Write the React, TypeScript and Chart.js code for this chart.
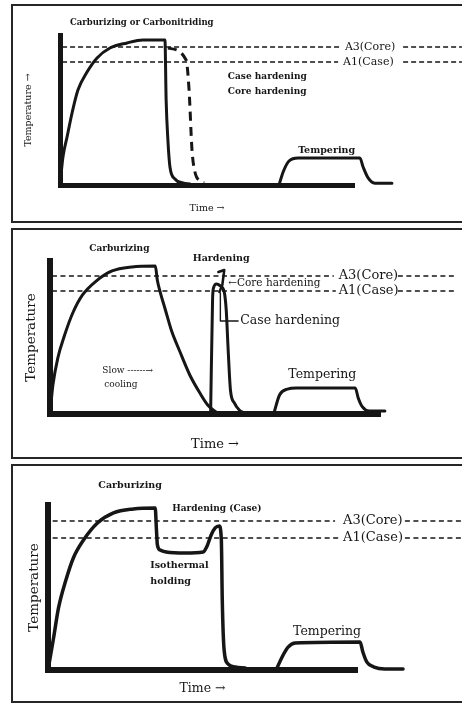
import React, { useEffect, useRef } from 'react';
import { Chart, registerables } from 'chart.js';

Chart.register(...registerables);

// ---------- Panel 1: carburizing / carbonitriding + direct quench ----------
const p1HeatTime = [0, 1.0, 2.4, 4.1, 6.1, 9.2, 12.6, 17.0, 22.8, 28.2, 35.7, 36.1, 36.7, 37.4, 39.1, 41.8, 44.2];
const p1HeatTemp = [0, 18.7, 32, 48, 63.3, 75.3, 84.7, 91.3, 94.7, 96.7, 96.7, 56.7, 30, 12, 4, 1.3, 0.7];
const p1CoreTime = [36.7, 42.9, 43.9, 44.9, 45.9, 47.6, 49];
const p1CoreTemp = [91.3, 83.3, 63.3, 23.3, 8.7, 2.7, 1.3];
const p1TemperTime = [74.5, 75.9, 77.9, 81, 102, 103.1, 104.8, 107.1, 112.9];
const p1TemperTemp = [0, 8.7, 16, 18, 18, 12, 4.7, 1.2, 1.2];
const p1A3 = 92;
const p1A1 = 82;
const p1A3Spans = [[0.7, 95.2], [116.7, 136.7]];
const p1A1Spans = [[0.7, 94.6], [116.7, 136.7]];

// ---------- Panel 2: carburizing, slow cooling, re-hardening ----------
const p2HeatTime = [0, 0.9, 2.4, 4.5, 7, 10, 14.2, 19.1, 25.2, 32.4, 33, 33.9, 35.5, 37.3, 40, 43, 46.1, 48.5, 50.6, 51.8];
const p2HeatTemp = [0, 19, 36.6, 51.6, 66, 77.8, 86.9, 93.5, 96.1, 96.7, 87.6, 79.7, 68, 54.9, 40.5, 25.5, 13.7, 5.9, 2, 0];
const p2SpikeTime = [49.4, 50, 50.3, 51.2, 52.4, 53.6, 54.2, 54.8, 55.5, 56.7, 58.2, 59.7];
const p2SpikeTemp = [0, 74.5, 82.4, 85, 83.7, 79.7, 68, 41.8, 15.7, 7.2, 2.6, 0.7];
const p2PeakTime = [51.8, 53.6, 53.0, 52.1];
const p2PeakTemp = [92.8, 94.1, 84.3, 79.7];
const p2LeaderTime = [52.4, 52.4, 58.0];
const p2LeaderTemp = [79.1, 60.8, 60.8];
const p2TemperTime = [68.8, 70.6, 73, 75.8, 93.9, 94.8, 96.1, 98.2, 103];
const p2TemperTemp = [0, 12.4, 16.3, 17, 17, 10.5, 4.6, 2, 2];
const p2A3 = 90.2;
const p2A1 = 80.4;
const p2A3Spans = [[0.6, 87.3], [107, 124.8]];
const p2A1Spans = [[0.6, 87.9], [107, 124.8]];

// ---------- Panel 3: carburizing, isothermal holding, hardening ----------
const p3HeatTime = [0, 1.8, 3.4, 5.7, 8.2, 11.5, 16, 21.2, 27.6, 34.7, 35.1, 35.4, 36.3, 38.3, 44.4, 50.2, 51.5, 52.8, 54.1, 55.4, 56.1, 56.4, 57, 58.3, 60.6, 63.8];
const p3HeatTemp = [0, 19.4, 37.6, 53.9, 67.9, 78.8, 89.1, 95.2, 97.6, 98.2, 84.8, 75.8, 72.7, 71.5, 70.9, 71.5, 75.2, 81.8, 86.1, 87.3, 78.8, 42.4, 12.1, 3.6, 1.8, 1.2];
const p3TemperTime = [73.8, 76.1, 77.7, 80, 101, 101.9, 103.2, 105.5, 109, 114.9];
const p3TemperTemp = [0, 9.1, 13.9, 16.4, 17, 10.9, 4.8, 1.8, 0.6, 0.6];
const p3A3 = 90.3;
const p3A1 = 80;
const p3A3Spans = [[1.5, 92.9], [115.5, 133.9]];
const p3A1Spans = [[1.5, 93.9], [115.5, 133.9]];

const INK = '#161616';
const FAMILY = '"DejaVu Serif", "Liberation Serif", serif';

type Note = { text: string; x: number; y: number; size: number; bold?: boolean };

const p1Notes: Note[] = [
  { text: 'Carburizing or Carbonitriding', x: 3.4, y: 108, size: 8.5, bold: true },
  { text: 'A3(Core)', x: 96.9, y: p1A3, size: 11 },
  { text: 'A1(Case)', x: 96.3, y: p1A1, size: 11 },
  { text: 'Case hardening', x: 57.1, y: 72, size: 9, bold: true },
  { text: 'Core hardening', x: 57.1, y: 62, size: 9, bold: true },
  { text: 'Tempering', x: 81, y: 23.3, size: 9.5, bold: true },
];

const p2Notes: Note[] = [
  { text: 'Carburizing', x: 12.1, y: 107.8, size: 9, bold: true },
  { text: 'Hardening', x: 43.9, y: 101.3, size: 9.5, bold: true },
  { text: '←Core hardening', x: 54.8, y: 85.6, size: 10.5 },
  { text: 'Case hardening', x: 58.5, y: 60.8, size: 12.5 },
  { text: 'Slow ------→', x: 16.1, y: 28.1, size: 9 },
  { text: 'cooling', x: 16.7, y: 19, size: 9 },
  { text: 'Tempering', x: 73.3, y: 25.5, size: 12.5 },
  { text: 'A3(Core)', x: 88.8, y: p2A3, size: 13 },
  { text: 'A1(Case)', x: 88.8, y: p2A1, size: 13 },
];

const p3Notes: Note[] = [
  { text: 'Carburizing', x: 16.3, y: 111.5, size: 9.5, bold: true },
  { text: 'Hardening (Case)', x: 40.2, y: 97.6, size: 9, bold: true },
  { text: 'Isothermal', x: 33.1, y: 63.6, size: 9.5, bold: true },
  { text: 'holding', x: 33.1, y: 53.9, size: 9.5, bold: true },
  { text: 'Tempering', x: 79.3, y: 23, size: 12.5 },
  { text: 'A3(Core)', x: 95.5, y: p3A3, size: 13 },
  { text: 'A1(Case)', x: 95.5, y: p3A1, size: 13 },
];

const toPoints = (xs: number[], ys: number[]) => xs.map((x, i) => ({ x, y: ys[i] }));

const curve = (xs: number[], ys: number[], width: number, extra: any = {}) => ({
  data: toPoints(xs, ys),
  borderColor: INK,
  borderWidth: width,
  pointRadius: 0,
  fill: false,
  cubicInterpolationMode: 'monotone',
  capBezierPoints: false,
  clip: false,
  borderCapStyle: 'round',
  borderJoinStyle: 'round',
  ...extra,
});

const refLine = (level: number, spans: number[][], width: number, dash: number[]) => ({
  data: [
    { x: spans[0][0], y: level },
    { x: spans[0][1], y: level },
    { x: (spans[0][1] + spans[1][0]) / 2, y: null },
    { x: spans[1][0], y: level },
    { x: spans[1][1], y: level },
  ],
  borderColor: INK,
  borderWidth: width,
  borderDash: dash,
  pointRadius: 0,
  fill: false,
  tension: 0,
  spanGaps: false,
  clip: false,
});

const notesPlugin = (notes: Note[]) => ({
  id: 'panelNotes',
  afterDatasetsDraw(chart: any) {
    const { ctx, scales } = chart;
    ctx.save();
    ctx.fillStyle = INK;
    ctx.textAlign = 'left';
    ctx.textBaseline = 'middle';
    for (const n of notes) {
      ctx.font = `${n.bold ? 'bold' : 'normal'} ${n.size}px ${FAMILY}`;
      ctx.fillText(n.text, scales.x.getPixelForValue(n.x), scales.y.getPixelForValue(n.y));
    }
    ctx.restore();
  },
});

type Spec = {
  top: number;
  height: number;
  datasets: any[];
  notes: Note[];
  xMax: number;
  yAxisWidth: number;
  xAxisHeight: number;
  padTop: number;
  padRight: number;
  axisWidth: number;
  xTitle: string;
  yTitle: string;
  xTitleSize: number;
  yTitleSize: number;
  xTitlePad: number;
  yTitlePad: number;
};

function Panel({ spec }: { spec: Spec }) {
  const ref = useRef<HTMLCanvasElement>(null);
  const canvasH = spec.height - 4;
  useEffect(() => {
    if (!ref.current) return;
    const chart = new Chart(ref.current, {
      type: 'line',
      data: { datasets: spec.datasets },
      plugins: [notesPlugin(spec.notes)],
      options: {
        animation: false,
        responsive: false,
        devicePixelRatio: 1,
        layout: { padding: { top: spec.padTop, right: spec.padRight, left: 0, bottom: 0 } },
        plugins: { legend: { display: false }, tooltip: { enabled: false }, title: { display: false } },
        elements: { point: { radius: 0 } },
        scales: {
          x: {
            type: 'linear',
            bounds: 'data',
            afterDataLimits: (s: any) => { s.min = 0; s.max = spec.xMax; },
            afterFit: (s: any) => { s.height = spec.xAxisHeight; },
            ticks: { display: false },
            grid: { display: false },
            border: { display: true, width: spec.axisWidth, color: INK },
            title: {
              display: true,
              text: spec.xTitle,
              color: INK,
              font: { family: FAMILY, size: spec.xTitleSize },
              padding: { top: 0, bottom: spec.xTitlePad },
            },
          },
          y: {
            type: 'linear',
            bounds: 'data',
            afterDataLimits: (s: any) => { s.min = 0; s.max = 100; },
            afterFit: (s: any) => { s.width = spec.yAxisWidth; },
            ticks: { display: false },
            grid: { display: false },
            border: { display: true, width: spec.axisWidth, color: INK },
            title: {
              display: true,
              text: spec.yTitle,
              color: INK,
              font: { family: FAMILY, size: spec.yTitleSize },
              padding: { top: spec.yTitlePad, bottom: 0 },
            },
          },
        },
      } as any,
    });
    return () => chart.destroy();
  }, []);
  return (
    <div
      style={{
        position: 'absolute',
        left: 11,
        top: spec.top,
        width: 480,
        height: spec.height,
        border: '2px solid #262626',
        boxSizing: 'border-box',
        background: '#fff',
      }}
    >
      <canvas
        ref={ref}
        width={449}
        height={canvasH}
        style={{ position: 'absolute', left: 0, top: 0, width: 449, height: canvasH }}
      />
    </div>
  );
}

const panels: Spec[] = [
  {
    top: 4,
    height: 219,
    datasets: [
      refLine(p1A3, p1A3Spans, 1.5, [5, 3]),
      refLine(p1A1, p1A1Spans, 1.5, [5, 3]),
      curve(p1HeatTime, p1HeatTemp, 3),
      curve(p1CoreTime, p1CoreTemp, 3, { borderDash: [9, 6], borderCapStyle: 'butt' }),
      curve(p1TemperTime, p1TemperTemp, 3),
    ],
    notes: p1Notes,
    xMax: 100,
    yAxisWidth: 47,
    xAxisHeight: 36,
    padTop: 29,
    padRight: 108,
    axisWidth: 5,
    xTitle: 'Time →',
    yTitle: 'Temperature →',
    xTitleSize: 9.5,
    yTitleSize: 9.5,
    xTitlePad: 7,
    yTitlePad: 10,
  },
  {
    top: 228,
    height: 231,
    datasets: [
      refLine(p2A3, p2A3Spans, 1.7, [5, 3.5]),
      refLine(p2A1, p2A1Spans, 1.7, [5, 3.5]),
      curve(p2HeatTime, p2HeatTemp, 3),
      curve(p2SpikeTime, p2SpikeTemp, 3),
      curve(p2PeakTime, p2PeakTemp, 2.5, { cubicInterpolationMode: 'default', tension: 0 }),
      curve(p2LeaderTime, p2LeaderTemp, 1.4, { cubicInterpolationMode: 'default', tension: 0, borderCapStyle: 'butt' }),
      curve(p2TemperTime, p2TemperTemp, 3),
    ],
    notes: p2Notes,
    xMax: 101.5,
    yAxisWidth: 37,
    xAxisHeight: 43,
    padTop: 31,
    padRight: 82,
    axisWidth: 6,
    xTitle: 'Time →',
    yTitle: 'Temperature',
    xTitleSize: 13,
    yTitleSize: 13.5,
    xTitlePad: 5,
    yTitlePad: 10,
  },
  {
    top: 464,
    height: 239,
    datasets: [
      refLine(p3A3, p3A3Spans, 1.7, [5, 3.5]),
      refLine(p3A1, p3A1Spans, 1.7, [5, 3.5]),
      curve(p3HeatTime, p3HeatTemp, 3.5),
      curve(p3TemperTime, p3TemperTemp, 3.5),
    ],
    notes: p3Notes,
    xMax: 100,
    yAxisWidth: 35,
    xAxisHeight: 31,
    padTop: 39,
    padRight: 105,
    axisWidth: 6,
    xTitle: 'Time →',
    yTitle: 'Temperature',
    xTitleSize: 12.5,
    yTitleSize: 13.5,
    xTitlePad: 5,
    yTitlePad: 13,
  },
];

export default function App() {
  return (
    <div
      style={{
        position: 'absolute',
        left: 0,
        top: 0,
        width: 462,
        height: 704,
        overflow: 'hidden',
        background: '#fff',
      }}
    >
      {panels.map((p, i) => (
        <Panel key={i} spec={p} />
      ))}
    </div>
  );
}
